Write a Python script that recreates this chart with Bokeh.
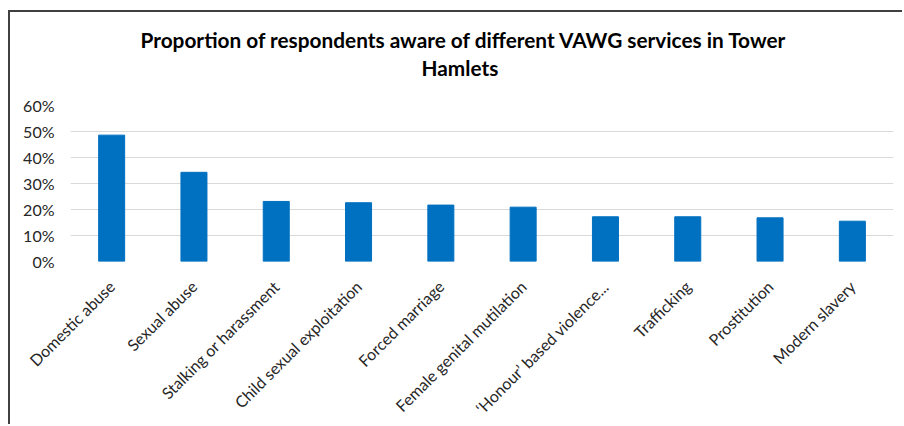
from bokeh.plotting import figure
from bokeh.models import Title, Range1d, FactorRange, NumeralTickFormatter, FixedTicker, ColumnDataSource
from bokeh.embed import file_html
from bokeh.resources import INLINE
import math

categories = ["Domestic abuse", "Sexual abuse", "Stalking or harassment", "Child sexual exploitation",
              "Forced marriage", "Female genital mutilation", "\u2018Honour\u2019 based violence...",
              "Trafficking", "Prostitution", "Modern slavery"]
values = [0.486, 0.343, 0.231, 0.226, 0.217, 0.209, 0.172, 0.172, 0.168, 0.155]
y_ticks = [0.0, 0.1, 0.2, 0.3, 0.4, 0.5, 0.6]
title_line1 = "Proportion of respondents aware of different VAWG services in Tower"
title_line2 = "Hamlets"

src = ColumnDataSource(data=dict(cat=categories, val=values))

p = figure(width=894, height=414, output_backend="svg", toolbar_location=None,
           x_range=FactorRange(*categories), y_range=Range1d(0, 0.6),
           min_border_left=60, min_border_right=11, min_border_top=93, min_border_bottom=165)
p.margin = (10, 0, 0, 8)
p.styles = {"border-top": "2px solid #404040", "border-left": "2px solid #404040"}
p.title = None
p.add_layout(Title(text=title_line2, align="left", offset=351, standoff=52, text_font="Lato",
                   text_font_size="20.8px", text_font_style="bold", text_color="#000000"), "above")
p.add_layout(Title(text=title_line1, align="left", offset=70, standoff=-50, text_font="Lato",
                   text_font_size="20.8px", text_font_style="bold", text_color="#000000"), "above")

p.vbar(x="cat", top="val", width=0.316, source=src, fill_color="#0070C0", line_color="#0070C0")

p.outline_line_color = None
p.background_fill_color = "white"
p.border_fill_color = "white"

p.xgrid.grid_line_color = None
p.ygrid.grid_line_color = "#d9d9d9"
p.ygrid.grid_line_width = 1

p.yaxis.ticker = FixedTicker(ticks=y_ticks)
p.yaxis.formatter = NumeralTickFormatter(format="0%")
p.yaxis.axis_line_color = None
p.yaxis.major_tick_line_color = None
p.yaxis.minor_tick_line_color = None
p.yaxis.major_tick_out = 0
p.yaxis.minor_tick_out = 0
p.yaxis.major_label_standoff = 16
p.yaxis.major_label_text_font = "Lato"
p.yaxis.major_label_text_font_size = "16px"
p.yaxis.major_label_text_color = "#262626"

p.xaxis.axis_line_color = None
p.xaxis.major_tick_line_color = None
p.xaxis.minor_tick_line_color = None
p.xaxis.major_tick_out = 0
p.xaxis.minor_tick_out = 0
p.xaxis.major_label_orientation = math.pi / 4
p.xaxis.major_label_standoff = 22
p.xaxis.major_label_text_font = "Lato"
p.xaxis.major_label_text_font_size = "16px"
p.xaxis.major_label_text_color = "#262626"

open("out.html", "w").write(file_html(p, INLINE))
